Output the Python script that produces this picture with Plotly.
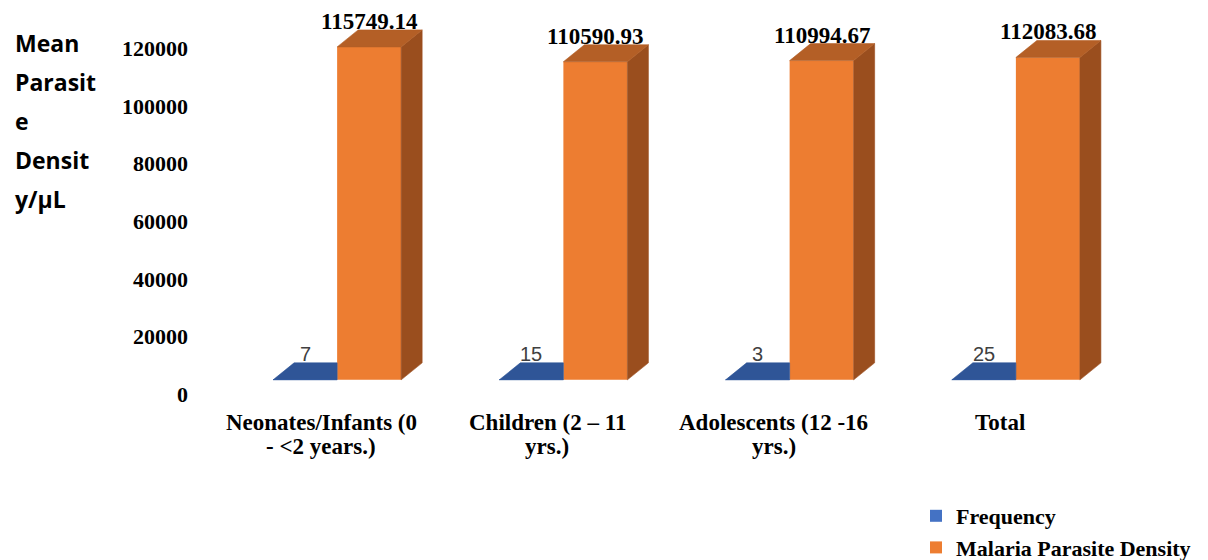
import plotly.graph_objects as go

# ---- data ----
categories = [
    "Neonates/Infants (0\n- <2 years.)",
    "Children (2 – 11\nyrs.)",
    "Adolescents (12 -16\nyrs.)",
    "Total",
]
frequency = [7, 15, 3, 25]
parasite_density = [115749.14, 110590.93, 110994.67, 112083.68]
y_tick_values = [0, 20000, 40000, 60000, 80000, 100000, 120000]
axis_title_lines = ["Mean", "Parasit", "e", "Densit", "y/µL"]

# ---- geometry ----
FIG_W, FIG_H = 1208, 560
M_L, M_R, M_T, M_B = 224, 79, 16, 160
X_RANGE = [-0.5, 3.5]
Y_RANGE = [-7000, 126500]
BAR_W = 0.283                 # width of each bar in category units
DEPTH_PX = (21, 17)           # oblique depth of the 3-D blocks, in pixels
LABEL_DROP_PX = 14            # value-axis labels sit slightly below the front plane

plot_w = FIG_W - M_L - M_R
plot_h = FIG_H - M_T - M_B
dx = DEPTH_PX[0] * (X_RANGE[1] - X_RANGE[0]) / plot_w
dy = DEPTH_PX[1] * (Y_RANGE[1] - Y_RANGE[0]) / plot_h
label_shift = LABEL_DROP_PX * (Y_RANGE[1] - Y_RANGE[0]) / plot_h


def paper_x(px):
    return (px - M_L) / plot_w


def paper_y(py):
    return (FIG_H - M_B - py) / plot_h


BLUE = "#4472C4"
BLUE_TOP = "#2F5597"
ORANGE = "#ED7D31"
ORANGE_TOP = "#B45F26"
ORANGE_SIDE = "#9A4E1E"
SERIF = "Liberation Serif"

xs = list(range(len(categories)))

fig = go.Figure()

# front faces (also provide the legend swatches)
fig.add_bar(x=xs, y=frequency, offset=-BAR_W, width=BAR_W,
            marker=dict(color=BLUE, line=dict(width=0)), name="Frequency")
fig.add_bar(x=xs, y=parasite_density, offset=0, width=BAR_W,
            marker=dict(color=ORANGE, line=dict(width=0)),
            name="Malaria Parasite Density")


def polygons(point_lists):
    px, py = [], []
    for pts in point_lists:
        for (a, b) in pts + [pts[0]]:
            px.append(a)
            py.append(b)
        px.append(None)
        py.append(None)
    return px, py


# top faces of the frequency blocks (the part not hidden by the orange block)
blue_top = [[(i - BAR_W, v), (i, v), (i, v + dy), (i - BAR_W + dx, v + dy)]
            for i, v in zip(xs, frequency)]
# side and top faces of the density blocks
orange_side = [[(i + BAR_W, 0), (i + BAR_W, v), (i + BAR_W + dx, v + dy), (i + BAR_W + dx, dy)]
               for i, v in zip(xs, parasite_density)]
orange_top = [[(i, v), (i + BAR_W, v), (i + BAR_W + dx, v + dy), (i + dx, v + dy)]
              for i, v in zip(xs, parasite_density)]

for pts, col in [(blue_top, BLUE_TOP), (orange_side, ORANGE_SIDE), (orange_top, ORANGE_TOP)]:
    px, py = polygons(pts)
    fig.add_scatter(x=px, y=py, mode="lines", fill="toself", fillcolor=col,
                    line=dict(color=col, width=0.6), hoverinfo="skip",
                    showlegend=False)

# empty trace that carries the labelled value axis
fig.add_scatter(x=[None], y=[None], yaxis="y2", mode="markers",
                showlegend=False, hoverinfo="skip")

annotations = []

# value labels above the density blocks
for i, v in zip(xs, parasite_density):
    annotations.append(dict(
        x=i + BAR_W / 2, y=v + dy, xref="x", yref="y", text=f"{v:.2f}",
        showarrow=False, yanchor="bottom", yshift=-6,
        font=dict(family=SERIF, size=23, color="black", weight="bold")))

# value labels for the frequency blocks
for i, v in zip(xs, frequency):
    annotations.append(dict(
        x=i - BAR_W / 2, y=v + dy, xref="x", yref="y", text=str(v),
        showarrow=False, yanchor="bottom", yshift=-4,
        font=dict(family="Liberation Sans", size=20, color="#404040")))

# category labels
for i, cat in zip(xs, categories):
    for k, line in enumerate(cat.split("\n")):
        annotations.append(dict(
            x=i, xref="x", xshift=-16, y=paper_y(422 + 24 * k), yref="paper",
            text=line, showarrow=False, yanchor="middle",
            font=dict(family=SERIF, size=23, color="black", weight="bold")))

# value-axis title, stacked in short lines
for k, line in enumerate(axis_title_lines):
    annotations.append(dict(
        x=paper_x(13), xref="paper", xanchor="left",
        y=paper_y(43 + 39 * k), yref="paper", yanchor="middle",
        text=line, showarrow=False,
        font=dict(family="Open Sans", size=23, color="black", weight="bold")))

fig.update_layout(
    width=FIG_W, height=FIG_H,
    margin=dict(l=M_L, r=M_R, t=M_T, b=M_B, autoexpand=False),
    paper_bgcolor="white", plot_bgcolor="white",
    barmode="overlay",
    showlegend=True,
    legend=dict(
        x=paper_x(916), y=paper_y(495), xanchor="left", yanchor="top",
        bgcolor="rgba(0,0,0,0)",
        font=dict(family=SERIF, size=22, color="black", weight="bold"),
        tracegroupgap=0, maxheight=200,
    ),
    xaxis=dict(range=X_RANGE, showgrid=False, zeroline=False,
               showticklabels=False, showline=False, fixedrange=True),
    yaxis=dict(range=Y_RANGE, showgrid=False, zeroline=False,
               showticklabels=False, showline=False),
    yaxis2=dict(
        overlaying="y", side="left", anchor="x",
        range=[Y_RANGE[0] + label_shift, Y_RANGE[1] + label_shift],
        tickvals=y_tick_values, ticktext=[str(t) for t in y_tick_values],
        showgrid=False, zeroline=False, showline=False,
        ticklabelstandoff=35,
        tickfont=dict(family=SERIF, size=22, color="black", weight="bold"),
    ),
    annotations=annotations,
)

fig.write_html("out.html")
